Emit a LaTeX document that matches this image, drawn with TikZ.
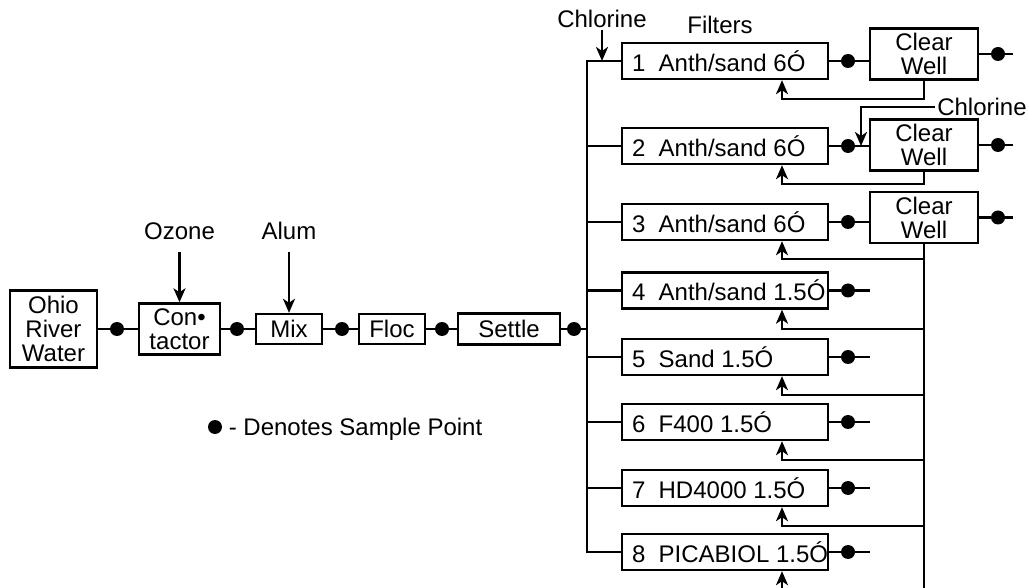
\documentclass[tikz,border=0pt]{standalone}
\usepackage{fontspec}
\setmainfont{Liberation Sans}
\usetikzlibrary{arrows.meta, positioning}

\newcommand{\ftext}[1]{\makebox[93pt][l]{#1}}

\begin{document}
\begin{tikzpicture}[
    x=0.5pt, y=-0.5pt,
    font=\fontsize{12}{12}\selectfont,
    >={Stealth[length=7pt,width=6pt,inset=2pt]},
    % Treatment unit on the main train
    unit/.style={
        draw,
        rectangle,
        line width=1.2pt,
        align=center,
        inner sep=0pt
    },
    % Filter column
    filter/.style={
        draw,
        rectangle,
        line width=1.2pt,
        inner sep=0pt,
        minimum width=103pt,
        minimum height=18pt
    },
    % Clear well
    well/.style={
        draw,
        rectangle,
        line width=1.2pt,
        align=center,
        inner sep=0pt,
        minimum width=54pt,
        minimum height=25.5pt
    },
    % Sample point
    sample/.style={circle, fill, inner sep=0pt, minimum size=7pt},
    % Chemical feed text
    chem/.style={inner sep=1pt},
    % Pipes
    pipe/.style={draw, line width=1.2pt},
    feed/.style={draw, ->, line width=1.2pt}
]
    \useasboundingbox (0,0) rectangle (1029,588);

    % Main treatment train
    \node (ohio) [unit, minimum width=43.5pt, minimum height=38.5pt] at (53.5,329) {Ohio\\River\\Water};
    \node (contact) [unit, minimum width=40.5pt, minimum height=25.5pt] at (179.5,329) {Con•\\tactor};
    \node (mix) [unit, minimum width=33pt, minimum height=15pt] at (289,329) {Mix};
    \node (floc) [unit, minimum width=33pt, minimum height=15pt] at (392,329) {Floc};
    \node (settle) [unit, minimum width=51pt, minimum height=15.5pt] at (509,329) {Settle};

    \node (s1) [sample] at (117,329) {};
    \node (s2) [sample] at (237,329) {};
    \node (s3) [sample] at (342,329) {};
    \node (s4) [sample] at (442,329) {};
    \node (s5) [sample] at (574,329) {};

    % Chemical feeds and headings
    \node (ozone) [chem, above=30pt of contact] {Ozone};
    \node (alum) [chem, above=35.5pt of mix] {Alum};
    \node (chlor1) [chem] at (602,19) {Chlorine};
    \node (chlor2) [chem] at (982,107) {Chlorine};
    \node (filters) [chem] at (720,25) {Filters};

    % Filter columns
    \node (f1) [filter] at (725,61) {\ftext{1\ \ Anth/sand 6Ó}};
    \node (f2) [filter] at (725,146) {\ftext{2\ \ Anth/sand 6Ó}};
    \node (f3) [filter] at (725,222) {\ftext{3\ \ Anth/sand 6Ó}};
    \node (f4) [filter] at (725,290.5) {\ftext{4\ \ Anth/sand 1.5Ó}};
    \node (f5) [filter] at (725,357) {\ftext{5\ \ Sand 1.5Ó}};
    \node (f6) [filter] at (725,422) {\ftext{6\ \ F400 1.5Ó}};
    \node (f7) [filter] at (725,488) {\ftext{7\ \ HD4000 1.5Ó}};
    \node (f8) [filter] at (725,552) {\ftext{8\ \ PICABIOL 1.5Ó}};

    % Clear wells
    \node (cw1) [well] at (924,54) {Clear\\Well};
    \node (cw2) [well] at (924,145) {Clear\\Well};
    \node (cw3) [well] at (924,217.5) {Clear\\Well};

    % Filter effluent sample points
    \node (d1) [sample] at (848,61) {};
    \node (d2) [sample] at (848,146) {};
    \node (d3) [sample] at (848,222) {};
    \node (d4) [sample] at (848,290.5) {};
    \node (d5) [sample] at (848,357) {};
    \node (d6) [sample] at (848,422) {};
    \node (d7) [sample] at (848,488) {};
    \node (d8) [sample] at (848,552) {};

    \node (o1) [sample] at (998,54) {};
    \node (o2) [sample] at (998,145) {};
    \node (o3) [sample] at (998,217.5) {};

    % Free pipe ends and bends
    \coordinate (e1) at (1013,54);
    \coordinate (e2) at (1013,145);
    \coordinate (e3) at (1013,217.5);
    \coordinate (e4) at (870,290.5);
    \coordinate (e5) at (870,357);
    \coordinate (e6) at (870,422);
    \coordinate (e7) at (870,488);
    \coordinate (e8) at (870,552);
    \coordinate (bustop) at (587,61);
    \coordinate (busbot) at (587,552);
    \coordinate (cl2in) at (861,146);
    \coordinate (retbot) at (924,588);
    \coordinate (r1) at (782,99);
    \coordinate (r2) at (782,184);
    \coordinate (r3) at (782,259);
    \coordinate (r4) at (782,329);
    \coordinate (r5) at (782,395);
    \coordinate (r6) at (782,460);
    \coordinate (r7) at (782,526);
    \coordinate (r8) at (782,588);

    % Legend
    \node (legdot) [sample] at (215,427) {};
    \node (legend) [right=3pt of legdot, inner sep=0pt, text height=8.6pt, text depth=0pt] {- Denotes Sample Point};

    % Main train pipes
    \draw [pipe] (ohio) -- (s1) -- (contact) -- (s2) -- (mix) -- (s3) -- (floc) -- (s4) -- (settle);
    \draw [pipe] (settle) -- (s5) -- (s5 -| bustop);
    \draw [feed, shorten <=5pt] (ozone) -- (contact);
    \draw [feed, shorten <=5pt] (alum) -- (mix);

    % Filter influent header
    \draw [pipe] (f1.west) -- (bustop) -- (busbot) -- (f8.west);
    \draw [pipe] (f2.west) -- (f2.west -| bustop);
    \draw [pipe] (f3.west) -- (f3.west -| bustop);
    \draw [pipe] (f4.west) -- (f4.west -| bustop);
    \draw [pipe] (f5.west) -- (f5.west -| bustop);
    \draw [pipe] (f6.west) -- (f6.west -| bustop);
    \draw [pipe] (f7.west) -- (f7.west -| bustop);
    \draw [feed] (chlor1.south) -- (chlor1.south |- bustop);

    % Filter effluent
    \draw [pipe] (f1) -- (d1) -- (d1 -| cw1.west);
    \draw [pipe] (f2) -- (d2) -- (d2 -| cw2.west);
    \draw [pipe] (f3) -- (d3) -- (d3 -| cw3.west);
    \draw [pipe] (f4) -- (d4) -- (e4);
    \draw [pipe] (f5) -- (d5) -- (e5);
    \draw [pipe] (f6) -- (d6) -- (e6);
    \draw [pipe] (f7) -- (d7) -- (e7);
    \draw [pipe] (f8) -- (d8) -- (e8);
    \draw [feed] (chlor2.west) -| (cl2in);

    \draw [pipe] (cw1) -- (o1) -- (e1);
    \draw [pipe] (cw2) -- (o2) -- (e2);
    \draw [pipe] (cw3) -- (o3) -- (e3);

    % Backwash returns
    \draw [feed] (cw1.south) |- (r1) -- (r1 |- f1.south);
    \draw [feed] (cw2.south) |- (r2) -- (r2 |- f2.south);
    \draw [pipe] (cw3.south) -- (retbot);
    \draw [feed] (r3 -| retbot) -- (r3) -- (r3 |- f3.south);
    \draw [feed] (r4 -| retbot) -- (r4) -- (r4 |- f4.south);
    \draw [feed] (r5 -| retbot) -- (r5) -- (r5 |- f5.south);
    \draw [feed] (r6 -| retbot) -- (r6) -- (r6 |- f6.south);
    \draw [feed] (r7 -| retbot) -- (r7) -- (r7 |- f7.south);
    \draw [feed] (r8) -- (r8 |- f8.south);

\end{tikzpicture}
\end{document}
